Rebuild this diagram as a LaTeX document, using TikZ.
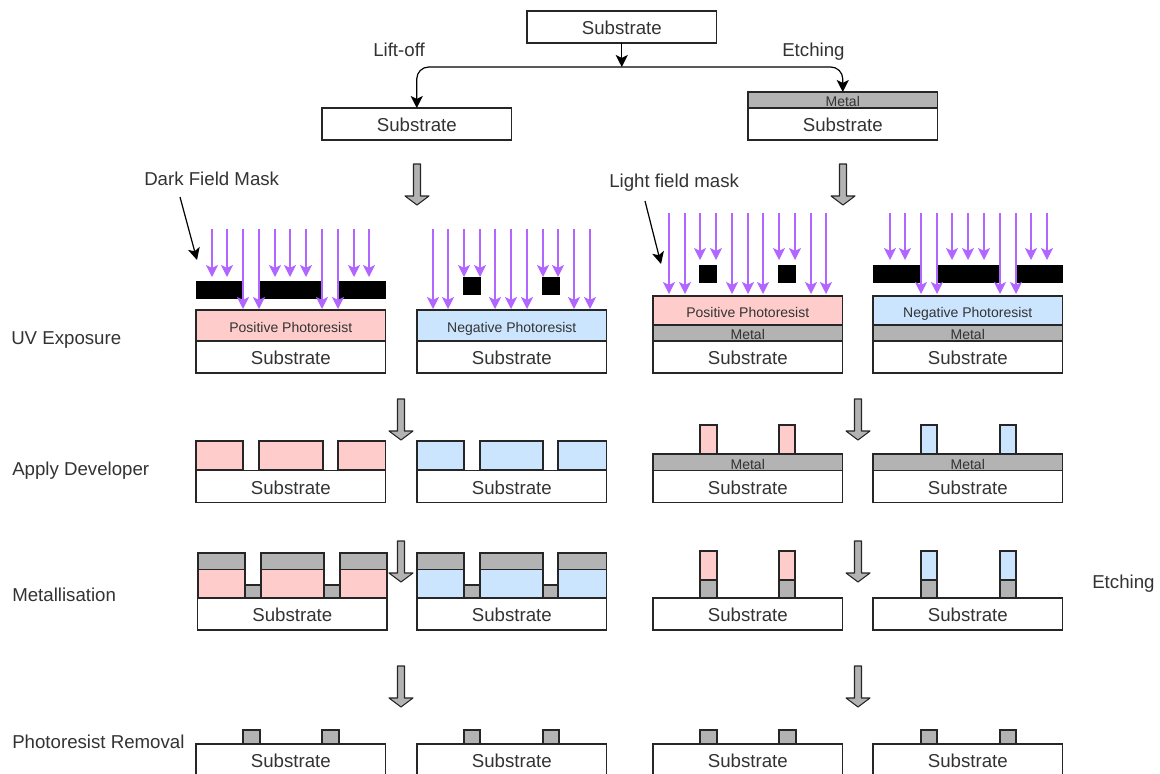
\documentclass[tikz,border=0pt]{standalone}
\usepackage{fontspec}
\setmainfont{Liberation Sans}
\usetikzlibrary{arrows.meta}
\definecolor{pinkfill}{HTML}{FFCCCC}
\definecolor{bluefill}{HTML}{CCE5FF}
\definecolor{metalfill}{HTML}{B3B3B3}
\definecolor{uvviolet}{HTML}{B266FF}
\definecolor{inkc}{HTML}{262626}
\definecolor{txtc}{HTML}{333333}
\tikzset{
  layerbox/.style={draw=inkc,line width=1pt,inner sep=0pt,outer sep=0pt,text=txtc,align=center},
  subst/.style={layerbox,fill=white,font=\fontsize{14}{16}\selectfont},
  posres/.style={layerbox,fill=pinkfill,font=\fontsize{10.5}{12}\selectfont},
  negres/.style={layerbox,fill=bluefill,font=\fontsize{10.5}{12}\selectfont},
  metalbox/.style={layerbox,fill=metalfill,font=\fontsize{10.5}{12}\selectfont},
  maskbar/.style={fill=black,draw=none,inner sep=0pt,outer sep=0pt},
  lab/.style={anchor=west,inner sep=0pt,text=txtc,text height=10pt,text depth=0pt,font=\fontsize{14}{16}\selectfont},
  uvray/.style={draw=uvviolet,line width=0.9pt,-{Stealth[length=9pt,width=9pt,inset=2.2pt]}},
  pointer/.style={draw=black,line width=0.9pt,-{Stealth[length=9pt,width=9pt,inset=2.2pt]}},
  blockarr/.style={draw=inkc,line width=0.8pt,fill=metalfill,line join=round},
}
% lowered text that leaves the box size alone
\newcommand{\dn}[2]{\raisebox{-#1}[0pt][0pt]{#2}}
\newcommand{\mtl}{\dn{5.2pt}{Metal}}
\newcommand{\pr}{\dn{5pt}{Positive Photoresist}}
\newcommand{\nr}{\dn{5pt}{Negative Photoresist}}
% name, x0, y0, x1, y1, style, text
\newcommand{\lay}[7]{\node[#6,minimum width={(#4-#2)*0.75pt},minimum height={(#5-#3)*0.75pt}] (#1) at ({(#2+#4)/2},{(#3+#5)/2}) {#7};}
\newcommand{\subbox}[3]{\lay{#1}{#2}{#3}{#2+189.5}{#3+32}{subst}{\dn{5.7pt}{Substrate}}}
\newcommand{\blockarrow}[2]{\draw[blockarr] (#1-3.5,#2) -- (#1+3.5,#2) -- (#1+3.5,#2+32) -- (#1+12,#2+32) -- (#1,#2+41) -- (#1-12,#2+32) -- (#1-3.5,#2+32) -- cycle;}
% prefix, start y, short end y, long end y, short list, long list
\newcommand{\uvrays}[6]{%
  \foreach \xx in {#5} {\coordinate (#1a\xx) at (\xx,#2); \coordinate (#1b\xx) at (\xx,#3); \draw[uvray] (#1a\xx) -- (#1b\xx);}
  \foreach \xx in {#6} {\coordinate (#1a\xx) at (\xx,#2); \coordinate (#1b\xx) at (\xx,#4); \draw[uvray] (#1a\xx) -- (#1b\xx);}
}
\begin{document}
\begin{tikzpicture}[x=0.75pt,y=-0.75pt]
\clip (0,0) rectangle (1160,774);
\fill[white] (0,0) rectangle (1160,774);

% top tree
\subbox{topsub}{527}{11}
\subbox{liftsub}{322}{108}
\subbox{etchsub}{748}{108}
\lay{etchmetal}{748}{92}{937.5}{108}{metalbox}{\mtl}
\coordinate (junction) at (621.75,67);
\draw[pointer] (topsub.south) -- (junction);
\draw[pointer,rounded corners=9pt] (junction) -| (liftsub.north);
\draw[pointer,rounded corners=9pt] (junction) -| (etchmetal.north);
\node[lab] (liftlab) at (373,50) {Lift-off};
\node[lab] (etchlab) at (782,50) {Etching};

% row labels
\node[lab] (rowuv) at (11,338) {UV Exposure};
\node[lab] (rowdev) at (12,469) {Apply Developer};
\node[lab] (rowmet) at (12,595) {Metallisation};
\node[lab] (rowetch) at (1092,582) {Etching};
\node[lab] (rowrem) at (12,742) {Photoresist Removal};
\node[lab] (darklab) at (144,179) {Dark Field Mask};
\node[lab] (lightlab) at (609,181) {Light field mask};

% block arrows
\blockarrow{417}{164}
\blockarrow{843}{164}
\blockarrow{401}{399}
\blockarrow{858}{399}
\blockarrow{401}{541}
\blockarrow{858}{541}
\blockarrow{401}{666}
\blockarrow{858}{666}

% pointers to masks
\coordinate (darkfrom) at (180,197);
\coordinate (darkto) at (197,260);
\draw[pointer] (darkfrom) -- (darkto);
\coordinate (lightfrom) at (645,201);
\coordinate (lightto) at (661,264);
\draw[pointer] (lightfrom) -- (lightto);

% UV row, column 1
\lay{ma}{196}{281}{243}{299}{maskbar}{}
\lay{mb}{260}{281}{322}{299}{maskbar}{}
\lay{mc}{338}{281}{386}{299}{maskbar}{}
\lay{ur1}{196}{310}{385.5}{341}{posres}{\pr}
\subbox{us1}{196}{341}
% column 2
\lay{md}{463}{277}{481}{295}{maskbar}{}
\lay{me}{542}{277}{560}{295}{maskbar}{}
\lay{ur2}{417}{310}{606.5}{341}{negres}{\nr}
\subbox{us2}{417}{341}
% column 3
\lay{mf}{699}{265}{717}{283}{maskbar}{}
\lay{mg}{778}{265}{796}{283}{maskbar}{}
\lay{ur3}{653}{296}{842.5}{325}{posres}{\pr}
\lay{um3}{653}{325}{842.5}{341}{metalbox}{\mtl}
\subbox{us3}{653}{341}
% column 4
\lay{mh}{873}{265}{921}{283}{maskbar}{}
\lay{mi}{937}{265}{999}{283}{maskbar}{}
\lay{mj}{1016}{265}{1063}{283}{maskbar}{}
\lay{ur4}{873}{296}{1062.5}{325}{negres}{\nr}
\lay{um4}{873}{325}{1062.5}{341}{metalbox}{\mtl}
\subbox{us4}{873}{341}

\uvrays{ra}{229}{277}{309}{212,227,275,290,306,354,369}{243,259,322,338}
\uvrays{rb}{229}{277}{309}{464,480,543,558}{433,448,495,511,527,574,590}
\uvrays{rc}{213}{260}{294}{700,716,779,795}{669,685,732,748,763,811,826}
\uvrays{rd}{213}{260}{294}{890,905,952,968,984,1031,1047}{921,937,1000,1016}

% developer row
\lay{da}{196}{441}{243}{470}{posres}{}
\lay{db}{259}{441}{323}{470}{posres}{}
\lay{dc}{338}{441}{385.5}{470}{posres}{}
\subbox{ds1}{196}{470.5}
\lay{dd}{417}{441}{464}{470}{negres}{}
\lay{de}{480}{441}{543}{470}{negres}{}
\lay{df}{558}{441}{606.5}{470}{negres}{}
\subbox{ds2}{417}{470.5}
\lay{dg}{700}{425}{717}{454}{posres}{}
\lay{dh}{779}{425}{795}{454}{posres}{}
\lay{dm3}{653}{454}{842.5}{470.5}{metalbox}{\mtl}
\subbox{ds3}{653}{470.5}
\lay{di}{921}{425}{937}{454}{negres}{}
\lay{dj}{1000}{425}{1016}{454}{negres}{}
\lay{dm4}{873}{454}{1062.5}{470.5}{metalbox}{\mtl}
\subbox{ds4}{873}{470.5}

% metallisation row, columns 1 and 2
\lay{ta}{198}{553}{245}{569.5}{metalbox}{}
\lay{tb}{261}{553}{324}{569.5}{metalbox}{}
\lay{tc}{340}{553}{387}{569.5}{metalbox}{}
\lay{ra1}{198}{569.5}{245}{598}{posres}{}
\lay{rb1}{261}{569.5}{324}{598}{posres}{}
\lay{rc1}{340}{569.5}{387}{598}{posres}{}
\lay{fa}{245}{585}{261}{598}{metalbox}{}
\lay{fb}{324}{585}{340}{598}{metalbox}{}
\subbox{ts1}{197.5}{598}
\lay{td}{417}{553}{464}{569.5}{metalbox}{}
\lay{te}{480}{553}{543}{569.5}{metalbox}{}
\lay{tf}{558}{553}{606.5}{569.5}{metalbox}{}
\lay{rd1}{417}{569.5}{464}{598}{negres}{}
\lay{re1}{480}{569.5}{543}{598}{negres}{}
\lay{rf1}{558}{569.5}{606.5}{598}{negres}{}
\lay{fc}{464}{585}{480}{598}{metalbox}{}
\lay{fd}{543}{585}{558}{598}{metalbox}{}
\subbox{ts2}{417}{598}

% etching row, columns 3 and 4
\lay{pa}{700}{551}{717}{580}{posres}{}
\lay{pb}{779}{551}{795}{580}{posres}{}
\lay{qa}{700}{580}{717}{597.5}{metalbox}{}
\lay{qb}{779}{580}{795}{597.5}{metalbox}{}
\subbox{ts3}{653}{598}
\lay{pc}{921}{551}{937}{580}{negres}{}
\lay{pd}{1000}{551}{1016}{580}{negres}{}
\lay{qc}{921}{580}{937}{597.5}{metalbox}{}
\lay{qd}{1000}{580}{1016}{597.5}{metalbox}{}
\subbox{ts4}{873}{598}

% removal row
\lay{xa}{243}{730}{260}{744}{metalbox}{}
\lay{xb}{322}{730}{339}{744}{metalbox}{}
\subbox{xs1}{196}{744}
\lay{xc}{464}{730}{480}{744}{metalbox}{}
\lay{xd}{543}{730}{559}{744}{metalbox}{}
\subbox{xs2}{417}{744}
\lay{xe}{700}{730}{717}{744}{metalbox}{}
\lay{xf}{779}{730}{796}{744}{metalbox}{}
\subbox{xs3}{653}{744}
\lay{xg}{921}{730}{937}{744}{metalbox}{}
\lay{xh}{1000}{730}{1016}{744}{metalbox}{}
\subbox{xs4}{873}{744}
\end{tikzpicture}
\end{document}
